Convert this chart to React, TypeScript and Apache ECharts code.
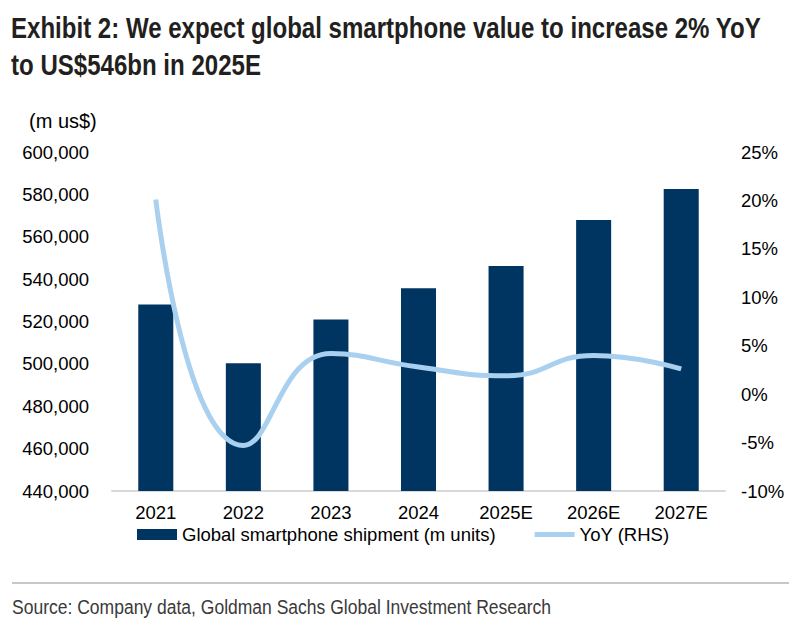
import React, { useEffect, useRef } from "react";
import * as echarts from "echarts";

const categories = ["2021", "2022", "2023", "2024", "2025E", "2026E", "2027E"];
const valueSeries = [528000, 500300, 521000, 535700, 546200, 567900, 582500];
const yoySeries = [20.1, -5.3, 4.2, 2.8, 1.9, 4.0, 2.6];
const leftTicks = { min: 440000, max: 600000, interval: 20000 };
const rightTicks = { min: -10, max: 25, interval: 5 };

const titleLine1 = "Exhibit 2: We expect global smartphone value to increase 2% YoY";
const titleLine2 = "to US$546bn in 2025E";
const unitLabel = "(m us$)";
const sourceText = "Source: Company data, Goldman Sachs Global Investment Research";
const barName = "Global smartphone shipment (m units)";
const lineName = "YoY (RHS)";

const BAR = "#003461";
const LINE = "#a9d0ee";
const ARIAL = "'Liberation Sans', Arial, sans-serif";

export default function App() {
  const ref = useRef<HTMLDivElement>(null);
  useEffect(() => {
    document.body.style.margin = "0";
    if (!ref.current) return;
    const chart = echarts.init(ref.current, undefined, { renderer: "svg" });
    chart.setOption({
      animation: false,
      backgroundColor: "#ffffff",
      grid: { left: 112, right: 78, top: 152, bottom: 142, containLabel: false },
      legend: {
        left: 137,
        top: 525,
        padding: 0,
        itemWidth: 40,
        itemHeight: 11,
        itemGap: 39,
        textStyle: { fontFamily: ARIAL, fontSize: 18.5, color: "#000" },
        data: [
          { name: barName, icon: "rect" },
          { name: lineName, icon: "path://M0,0H40V5H0Z" },
        ],
      },
      xAxis: {
        type: "category",
        data: categories,
        axisLine: { onZero: false, lineStyle: { color: "#d9d9d9", width: 2 } },
        axisTick: { show: false },
        axisLabel: { fontFamily: ARIAL, fontSize: 18.5, color: "#000", margin: 12 },
      },
      yAxis: [
        {
          type: "value",
          min: leftTicks.min,
          max: leftTicks.max,
          interval: leftTicks.interval,
          splitLine: { show: false },
          axisLine: { show: false },
          axisTick: { show: false },
          axisLabel: {
            fontFamily: ARIAL,
            fontSize: 18.5,
            color: "#000",
            margin: 23,
            formatter: (v: number) => v.toLocaleString("en-US"),
          },
        },
        {
          type: "value",
          min: rightTicks.min,
          max: rightTicks.max,
          interval: rightTicks.interval,
          splitLine: { show: false },
          axisLine: { show: false },
          axisTick: { show: false },
          axisLabel: {
            fontFamily: ARIAL,
            fontSize: 18.5,
            color: "#000",
            margin: 16,
            formatter: (v: number) => `${v}%`,
          },
        },
      ],
      series: [
        {
          name: barName,
          type: "bar",
          data: valueSeries,
          barWidth: "40%",
          itemStyle: { color: BAR },
        },
        {
          name: lineName,
          type: "line",
          yAxisIndex: 1,
          data: yoySeries,
          smooth: 0.5,
          symbol: "none",
          lineStyle: { color: LINE, width: 5 },
          itemStyle: { color: LINE },
        },
      ],
      graphic: [
        {
          type: "text",
          x: 11,
          y: 28.5,
          scaleX: 0.83,
          style: {
            text: titleLine1,
            fontFamily: ARIAL,
            fontWeight: "bold",
            fontSize: 29,
            fill: "#231f20",
            verticalAlign: "middle",
          },
        },
        {
          type: "text",
          x: 11,
          y: 65.5,
          scaleX: 0.83,
          style: {
            text: titleLine2,
            fontFamily: ARIAL,
            fontWeight: "bold",
            fontSize: 29,
            fill: "#231f20",
            verticalAlign: "middle",
          },
        },
        {
          type: "text",
          left: 29,
          top: 111,
          style: { text: unitLabel, fontFamily: ARIAL, fontSize: 20, fill: "#000" },
        },
        {
          type: "line",
          shape: { x1: 12, y1: 583, x2: 789, y2: 583 },
          style: { stroke: "#c8c8c8", lineWidth: 2 },
        },
        {
          type: "text",
          x: 12,
          y: 607,
          scaleX: 0.834,
          style: {
            text: sourceText,
            fontFamily: ARIAL,
            fontSize: 21,
            fill: "#3a3a3a",
            verticalAlign: "middle",
          },
        },
      ],
    });
    return () => chart.dispose();
  }, []);
  return <div ref={ref} style={{ width: 803, height: 633 }} />;
}
